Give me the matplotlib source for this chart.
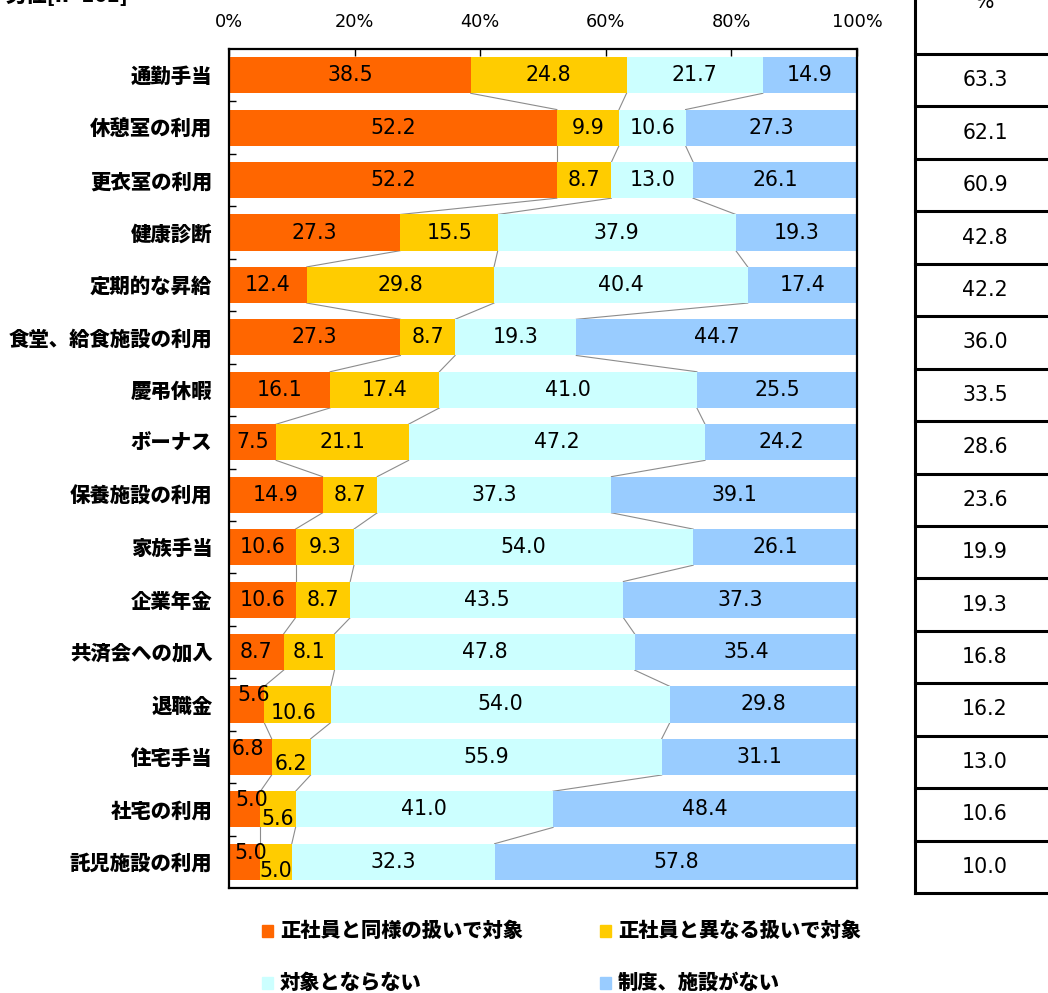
import matplotlib
matplotlib.use("Agg")
import matplotlib.pyplot as plt
from matplotlib.lines import Line2D
from matplotlib.patches import Rectangle
import numpy as np

plt.rcParams['font.family'] = ['Noto Sans CJK JP', 'DejaVu Sans']

categories = ["通勤手当", "休憩室の利用", "更衣室の利用", "健康診断", "定期的な昇給",
              "食堂、給食施設の利用", "慶弔休暇", "ボーナス", "保養施設の利用", "家族手当",
              "企業年金", "共済会への加入", "退職金", "住宅手当", "社宅の利用", "託児施設の利用"]
same_as_regular = [38.5, 52.2, 52.2, 27.3, 12.4, 27.3, 16.1, 7.5, 14.9, 10.6, 10.6, 8.7, 5.6, 6.8, 5.0, 5.0]
different_from_regular = [24.8, 9.9, 8.7, 15.5, 29.8, 8.7, 17.4, 21.1, 8.7, 9.3, 8.7, 8.1, 10.6, 6.2, 5.6, 5.0]
not_covered = [21.7, 10.6, 13.0, 37.9, 40.4, 19.3, 41.0, 47.2, 37.3, 54.0, 43.5, 47.8, 54.0, 55.9, 41.0, 32.3]
no_system = [14.9, 27.3, 26.1, 19.3, 17.4, 44.7, 25.5, 24.2, 39.1, 26.1, 37.3, 35.4, 29.8, 31.1, 48.4, 57.8]
covered_total = [63.3, 62.1, 60.9, 42.8, 42.2, 36.0, 33.5, 28.6, 23.6, 19.9, 19.3, 16.8, 16.2, 13.0, 10.6, 10.0]
series_names = ["正社員と同様の扱いで対象", "正社員と異なる扱いで対象", "対象とならない", "制度、施設がない"]
x_ticks = [0, 20, 40, 60, 80, 100]
colors = ["#FF6600", "#FFCC00", "#CCFFFF", "#99CCFF"]

W, H = 1048, 993
fig = plt.figure(figsize=(W / 100, H / 100), dpi=100)

def fx(px):
    return px / W

def fy(py):
    return 1 - py / H

ax = fig.add_axes([fx(229), fy(888), fx(857) - fx(229), fy(49) - fy(888)])

series = [same_as_regular, different_from_regular, not_covered, no_system]
n = len(categories)
y = np.arange(n)
bar_h = 0.69
left = np.zeros(n)
cums = []
for vals, col in zip(series, colors):
    vals = np.array(vals)
    ax.barh(y, vals, left=left, height=bar_h, color=col, edgecolor='none', zorder=2)
    left = left + vals
    cums.append(left.copy())

# connector lines between adjacent bars
for c in cums[:3]:
    for i in range(n - 1):
        ax.plot([c[i], c[i + 1]], [i + bar_h / 2, i + 1 - bar_h / 2],
                color="#8c8c8c", lw=0.8, zorder=1)

# value labels; small segments nudged apart (offset in points)
nudges = {
    (12, 0): (5, 7), (12, 1): (-3, -6.5),
    (13, 0): (-1.5, 5.5), (13, 1): (0, -5),
    (14, 0): (5, 7), (14, 1): (0, -7),
    (15, 0): (4.5, 6.5), (15, 1): (0, -6.5),
}
num_font = dict(family=['DejaVu Sans'], fontsize=14.8, color='black')
for si, vals in enumerate(series):
    start = cums[si] - np.array(vals)
    for i, v in enumerate(vals):
        cx = start[i] + v / 2
        dx, dy = nudges.get((i, si), (0, 0))
        ax.annotate(f"{v:.1f}", (cx, i), xytext=(dx, dy), textcoords='offset points',
                    ha='center', va='center', zorder=3, **num_font)

ax.set_xlim(0, 100)
ax.set_ylim(n - 0.5, -0.5)
ax.xaxis.tick_top()
ax.set_xticks(x_ticks)
ax.set_xticklabels([f"{t}%" for t in x_ticks], fontsize=12.8, family=['DejaVu Sans'])
ax.tick_params(axis='x', direction='in', length=5, width=1, pad=13, top=True, bottom=False)
ax.set_yticks(np.arange(n - 1) + 0.5, minor=True)
ax.set_yticks(y)
ax.set_yticklabels(categories, fontsize=14.7, fontweight='heavy')
ax.tick_params(axis='y', which='major', length=0, pad=12)
ax.tick_params(axis='y', which='minor', direction='in', length=5, width=1)
for sp in ax.spines.values():
    sp.set_linewidth(1.6)
    sp.set_color('black')

# heading at the top edge, mostly outside the canvas
fig.text(fx(6), fy(6), "男性[n=161]", fontsize=15, fontweight='heavy', va='bottom', ha='left')

# right-hand table of covered share
tx0 = 915
row_top = 54
row_h = (893 - 54) / n
fig.add_artist(Line2D([fx(tx0), fx(tx0)], [fy(-2), fy(893)], color='black', lw=2.2))
for k in range(n + 1):
    yy = row_top + k * row_h
    fig.add_artist(Line2D([fx(tx0), fx(W + 5)], [fy(yy), fy(yy)], color='black', lw=2.2))
for k, v in enumerate(covered_total):
    fig.text(fx(985), fy(row_top + (k + 0.5) * row_h), f"{v:.1f}", ha='center', va='center',
             **num_font)
fig.text(fx(985), fy(2), "%", ha='center', va='center', fontsize=14.8, family=['DejaVu Sans'])

# legend
leg_pos = [(262, 931), (600, 931), (262, 983), (600, 983)]
for (lx, ly), name, col in zip(leg_pos, series_names, colors):
    fig.add_artist(Rectangle((fx(lx), fy(ly + 6)), fx(11), 12 / H, color=col,
                             transform=fig.transFigure))
    fig.text(fx(lx + 18), fy(ly), name, ha='left', va='center', fontsize=14.6, fontweight='heavy')

fig.savefig("out.png", dpi=100)
